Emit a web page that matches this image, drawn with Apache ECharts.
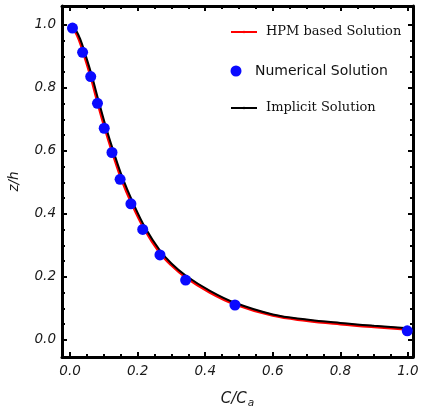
<!DOCTYPE html>
<html><head><meta charset="utf-8">
<script src="https://cdn.jsdelivr.net/npm/echarts@6/dist/echarts.min.js"></script>
<style>html,body{margin:0;padding:0;background:#fff}#c{width:421px;height:410px}</style>
</head><body><div id="c"></div>
<script>
// ---- data ----
const majorTicks = [0.0, 0.2, 0.4, 0.6, 0.8, 1.0];
const minorTicks = [0.05, 0.1, 0.15, 0.25, 0.3, 0.35, 0.45, 0.5, 0.55, 0.65, 0.7, 0.75, 0.85, 0.9, 0.95];

const numericalC = [0.007, 0.037, 0.061, 0.081, 0.101, 0.124, 0.148, 0.180, 0.215, 0.266, 0.342, 0.488, 0.998];
const numericalZ = [0.990, 0.913, 0.836, 0.751, 0.672, 0.595, 0.510, 0.432, 0.351, 0.270, 0.190, 0.111, 0.029];

const implicitC = [0.000, 0.008, 0.017, 0.030, 0.044, 0.065, 0.086, 0.107, 0.130, 0.155, 0.186, 0.222, 0.266, 0.300, 0.343, 0.414, 0.488, 0.600, 0.700, 0.800, 0.900, 0.990];
const implicitZ = [1.000, 0.996, 0.984, 0.955, 0.910, 0.836, 0.752, 0.672, 0.593, 0.515, 0.436, 0.357, 0.284, 0.243, 0.204, 0.156, 0.118, 0.081, 0.065, 0.054, 0.045, 0.038];

const hpmC = [0.000, 0.006, 0.014, 0.027, 0.041, 0.062, 0.083, 0.104, 0.127, 0.152, 0.183, 0.220, 0.264, 0.299, 0.342, 0.413, 0.488, 0.600, 0.700, 0.800, 0.900, 0.990];
const hpmZ = [0.999, 0.995, 0.983, 0.953, 0.908, 0.834, 0.750, 0.670, 0.591, 0.512, 0.433, 0.353, 0.280, 0.239, 0.200, 0.152, 0.114, 0.078, 0.062, 0.051, 0.042, 0.035];

const xRange = [-0.024, 1.015];
const yRange = [-0.054, 1.060];

const zip = (a, b) => a.map((v, i) => [v, b[i]]);

const labelStyle = {fontFamily: 'DejaVu Sans', fontStyle: 'italic', fontSize: 13.5, color: '#1a1a1a'};
function axis(kind, pos, ticks, len, major, extra) {
  const r = kind === 'x' ? xRange : yRange;
  return Object.assign({
    type: 'value', position: pos, min: r[0], max: r[1],
    splitLine: {show: false},
    axisLine: {show: major, onZero: false, lineStyle: {color: '#000', width: 3}},
    axisTick: {show: true, inside: true, length: len, customValues: ticks, lineStyle: {color: '#000', width: 2}},
    axisLabel: {show: false}
  }, extra || {});
}
const xLabel = Object.assign({show: true, customValues: majorTicks, margin: 7, formatter: v => v.toFixed(1)}, labelStyle);
const yLabel = Object.assign({show: true, customValues: majorTicks, margin: 6, formatter: v => v.toFixed(1)}, labelStyle);

const chart = echarts.init(document.getElementById('c'));
chart.setOption({
  animation: false,
  backgroundColor: '#fff',
  grid: {left: 62, right: 8, top: 6, bottom: 53, containLabel: false, outerBoundsMode: 'none'},
  xAxis: [
    axis('x', 'bottom', majorTicks, 5, true, {axisLabel: xLabel,
      name: '{m|C/C}{s|a}', nameLocation: 'middle', nameGap: 33,
      nameTextStyle: {rich: {
        m: {fontFamily: 'DejaVu Sans', fontStyle: 'italic', fontSize: 15, color: '#1a1a1a', lineHeight: 18},
        s: {fontFamily: 'DejaVu Sans', fontStyle: 'italic', fontSize: 10.5, color: '#1a1a1a', lineHeight: 18, padding: [8, 0, 0, 1]}
      }}}),
    axis('x', 'top', majorTicks, 5, true),
    axis('x', 'top', minorTicks, 3, false),
    axis('x', 'bottom', minorTicks, 3, false)
  ],
  yAxis: [
    axis('y', 'left', majorTicks, 5, true, {axisLabel: yLabel,
      name: 'z/h', nameLocation: 'middle', nameGap: 41, nameRotate: 90,
      nameTextStyle: {fontFamily: 'DejaVu Sans', fontStyle: 'italic', fontSize: 13.5, color: '#1a1a1a'}}),
    axis('y', 'right', majorTicks, 5, true),
    axis('y', 'right', minorTicks, 3, false),
    axis('y', 'left', minorTicks, 3, false)
  ],
  legend: [
    {data: ['HPM based Solution'], left: 230, top: 24, padding: 0, itemWidth: 26, itemHeight: 3, selectedMode: false,
      textStyle: {fontFamily: 'DejaVu Serif', fontSize: 13, color: '#111', lineHeight: 16, padding: [0, 0, 0, 4]}},
    {data: ['Numerical Solution'], left: 230.5, top: 63, padding: 0, itemWidth: 11, itemHeight: 11, icon: 'circle', selectedMode: false,
      textStyle: {fontFamily: 'DejaVu Sans', fontSize: 14, color: '#111', lineHeight: 16, padding: [0, 0, 0, 8.5]}},
    {data: ['Implicit Solution'], left: 230, top: 100, padding: 0, itemWidth: 26, itemHeight: 3, selectedMode: false,
      textStyle: {fontFamily: 'DejaVu Serif', fontSize: 13, color: '#111', lineHeight: 16, padding: [0, 0, 0, 4]}}
  ],
  series: [
    {name: 'HPM based Solution', type: 'line', data: zip(hpmC, hpmZ), smooth: 0.4, symbol: 'none',
      lineStyle: {color: '#ff0000', width: 3}, itemStyle: {color: '#ff0000'}, z: 2},
    {name: 'Implicit Solution', type: 'line', data: zip(implicitC, implicitZ), smooth: 0.4, symbol: 'none',
      lineStyle: {color: '#000', width: 2}, itemStyle: {color: '#000'}, z: 3},
    {name: 'Numerical Solution', type: 'scatter', data: zip(numericalC, numericalZ), symbol: 'circle', symbolSize: 11,
      itemStyle: {color: '#0a0aff', opacity: 1}, z: 4}
  ]
});
</script></body></html>
